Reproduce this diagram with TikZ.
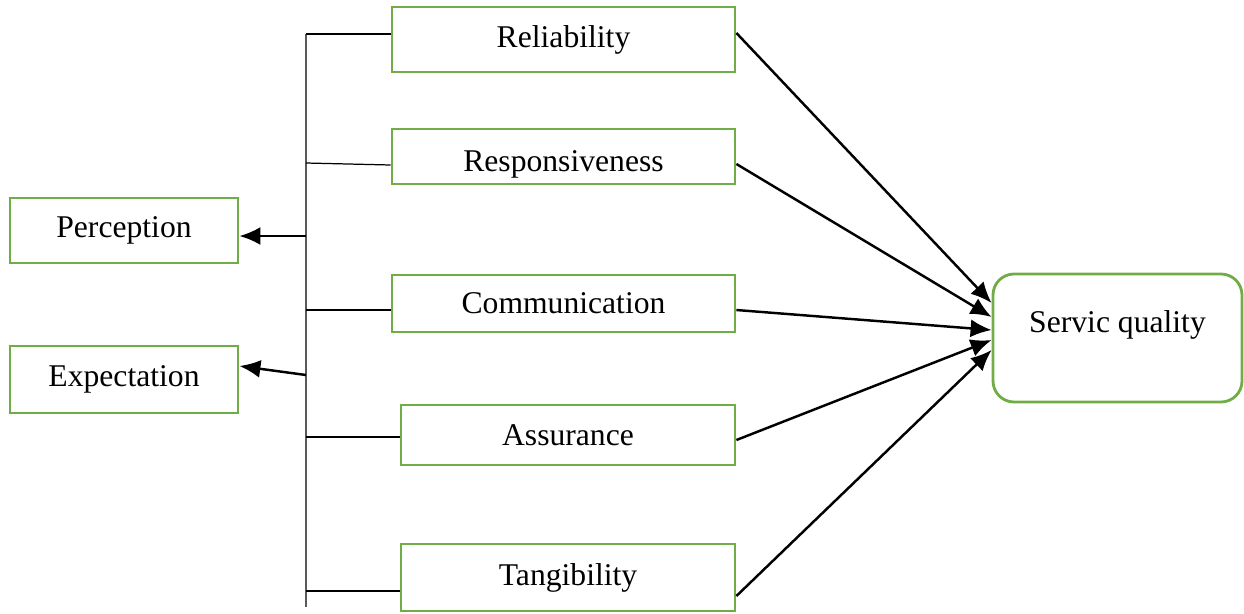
\documentclass[tikz,border=0pt]{standalone}
\usepackage{fontspec}
\setmainfont{Liberation Serif}
\usetikzlibrary{arrows.meta}
\usetikzlibrary{positioning}
\definecolor{boxgreen}{HTML}{70AD47}
\definecolor{spinegray}{HTML}{595959}
\tikzset{
    dimbox/.style={
           rectangle,
           draw=boxgreen, line width=1.6pt,
           inner sep=0pt,
           text centered,
           font=\fontsize{18}{22}\selectfont,
           },
    link/.style={draw=black, line width=0.7pt},
}

\begin{document}
\begin{tikzpicture}[>={Latex[length=0.42cm,width=0.36cm]},line width=1.4pt]
    \useasboundingbox (0,0) rectangle (24.88,-12.26);

	% dimensions
	\node[dimbox,minimum width=6.86cm,minimum height=1.30cm] (rel)   at (11.27,-0.79)  {Reliability};
	\node[dimbox,minimum width=6.86cm,minimum height=1.10cm,
	      text height=0.72cm,text depth=0.14cm] (resp)  at (11.27,-3.13)  {Responsiveness};
	\node[dimbox,minimum width=6.86cm,minimum height=1.14cm] (comm)  at (11.27,-6.07)  {Communication};
	\node[dimbox,minimum width=6.68cm,minimum height=1.20cm] (assur) at (11.36,-8.70)  {Assurance};
	\node[dimbox,minimum width=6.68cm,minimum height=1.34cm] (tang)  at (11.36,-11.55) {Tangibility};

	% left side
	\node[dimbox,minimum width=4.56cm,minimum height=1.30cm] (perc) at (2.48,-4.61) {Perception};
	\node[dimbox,minimum width=4.56cm,minimum height=1.34cm] (expc) at (2.48,-7.59) {Expectation};

	% result
	\node[dimbox,rounded corners=0.42cm,minimum width=4.98cm,minimum height=2.56cm,
	      text depth=0.65cm] (sq) at (22.35,-6.76) {Servic quality};

	% spine
	\coordinate (top) at (6.12,-0.68);
	\coordinate (bot) at (6.12,-12.14);
	\draw[spinegray,line width=1.5pt] (top) -- (bot);

	\coordinate (s2) at (6.12,-3.26);
	\coordinate (s3) at (6.12,-6.20);
	\coordinate (s4) at (6.12,-8.74);
	\coordinate (s5) at (6.12,-11.82);
	\coordinate (p1) at (6.12,-4.72);
	\coordinate (p2) at (6.12,-7.50);

	\path[link] (top) edge (top -| rel.west);
	\path[link] (s2) edge ([yshift=-0.17cm]resp.west);
	\path[link] (s3) edge (s3 -| comm.west);
	\path[link] (s4) edge (s4 -| assur.west);
	\path[link] (s5) edge (s5 -| tang.west);

	\path[->] (p1) edge (p1 -| perc.east);
	\path[->] (p2) edge ([yshift=0.27cm]expc.east);

	\path[->] ([yshift=0.13cm]rel.east)    edge ([yshift=0.70cm]sq.west);
	\path[->] ([yshift=-0.15cm]resp.east)  edge ([yshift=0.42cm]sq.west);
	\path[->] ([yshift=-0.13cm]comm.east)  edge ([yshift=0.16cm]sq.west);
	\path[->] ([yshift=-0.10cm]assur.east) edge ([yshift=-0.04cm]sq.west);
	\path[->] ([yshift=-0.37cm]tang.east)  edge ([yshift=-0.24cm]sq.west);

\end{tikzpicture}
\end{document}
